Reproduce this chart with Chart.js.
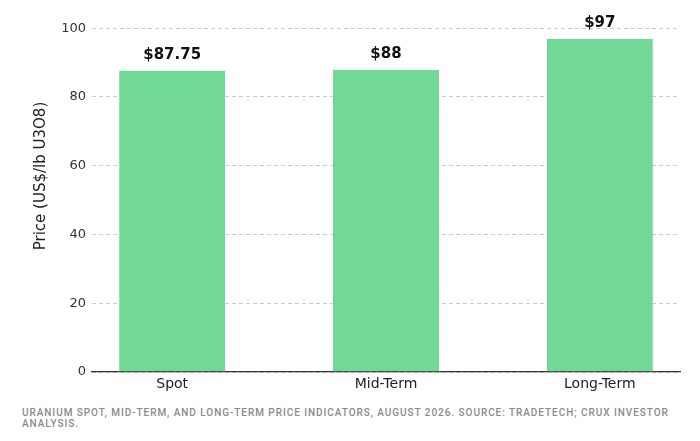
<!DOCTYPE html>
<html>
<head>
<meta charset="utf-8">
<script src="https://cdn.jsdelivr.net/npm/chart.js@4.4.0/dist/chart.umd.min.js"></script>
<style>
  body { margin: 0; background: #fff; }
  #wrap { position: absolute; left: 0; top: 0; width: 700px; height: 400px; }
  #caption {
    position: absolute; left: 22px; top: 408px; width: 670px;
    font-family: Roboto, sans-serif; font-size: 10px; line-height: 10.5px;
    letter-spacing: 0.95px; color: #8a8a8a; font-weight: 500;
  }
</style>
</head>
<body>
<div id="wrap"><canvas id="myChart"></canvas></div>
<div id="caption">URANIUM SPOT, MID-TERM, AND LONG-TERM PRICE INDICATORS, AUGUST 2026. SOURCE: TRADETECH; CRUX INVESTOR<br>ANALYSIS.</div>
<script>
const categories = ['Spot', 'Mid-Term', 'Long-Term'];
const prices = [87.75, 88, 97];
const priceLabels = ['$87.75', '$88', '$97'];
const yTicks = [0, 20, 40, 60, 80, 100];

let ctx = document.getElementById('myChart').getContext('2d');

/** value labels above the bars */
const barLabels = {
  id: 'barLabels',
  afterDatasetsDraw(chart) {
    const c = chart.ctx;
    const meta = chart.getDatasetMeta(0);
    c.save();
    c.font = 'bold 15px "DejaVu Sans"';
    c.fillStyle = '#111';
    c.textAlign = 'center';
    c.textBaseline = 'middle';
    meta.data.forEach(function(bar, i) {
      c.fillText(priceLabels[i], bar.x, bar.y - 15);
    });
    c.restore();
  }
};

/** y axis title, placed like the original */
const yTitle = {
  id: 'yTitle',
  afterDraw(chart) {
    const c = chart.ctx;
    c.save();
    c.translate(41, 176);
    c.rotate(-Math.PI / 2);
    c.font = '15px "DejaVu Sans"';
    c.fillStyle = '#222';
    c.textAlign = 'center';
    c.textBaseline = 'middle';
    c.fillText('Price (US$/lb U3O8)', 0, 0);
    c.restore();
  }
};

const data = {
  datasets: [{
    data: prices.map(function(p, i) { return { x: i, y: p }; }),
    backgroundColor: '#72d897',
    borderColor: '#ffffff',
    borderWidth: 0.5,
    barPercentage: 0.5,
    categoryPercentage: 1
  }]
};

const config = {
  type: 'bar',
  data: data,
  options: {
    responsive: false,
    animation: false,
    layout: { padding: { left: 0, right: 20, top: 0, bottom: 0 } },
    plugins: { legend: { display: false }, tooltip: { enabled: false } },
    scales: {
      x: {
        type: 'linear',
        offset: false,
        min: -0.375,
        max: 2.375,
        afterBuildTicks: function(scale) {
          scale.ticks = categories.map(function(c, i) { return { value: i }; });
        },
        afterFit: function(scale) { scale.height = 28; },
        ticks: {
          callback: function(v) { return categories[v]; },
          font: { family: 'DejaVu Sans', size: 14 },
          color: '#222',
          padding: 4,
          maxRotation: 0,
          autoSkip: false
        },
        grid: { display: false, drawTicks: false, offset: false },
        border: { display: true, color: '#333', width: 1.3 }
      },
      y: {
        min: 0,
        max: 104.2,
        afterBuildTicks: function(scale) {
          scale.ticks = yTicks.map(function(v) { return { value: v }; });
        },
        afterFit: function(scale) { scale.width = 92; },
        ticks: {
          font: { family: 'DejaVu Sans', size: 13 },
          color: '#333',
          padding: 6
        },
        grid: { color: '#cccccc', lineWidth: 1, drawTicks: false },
        border: { display: false, dash: [4, 3] }
      }
    }
  },
  plugins: [barLabels, yTitle]
};

ctx.canvas.width = 700;
ctx.canvas.height = 400;
let chart = new Chart(ctx, config);
</script>
</body>
</html>
